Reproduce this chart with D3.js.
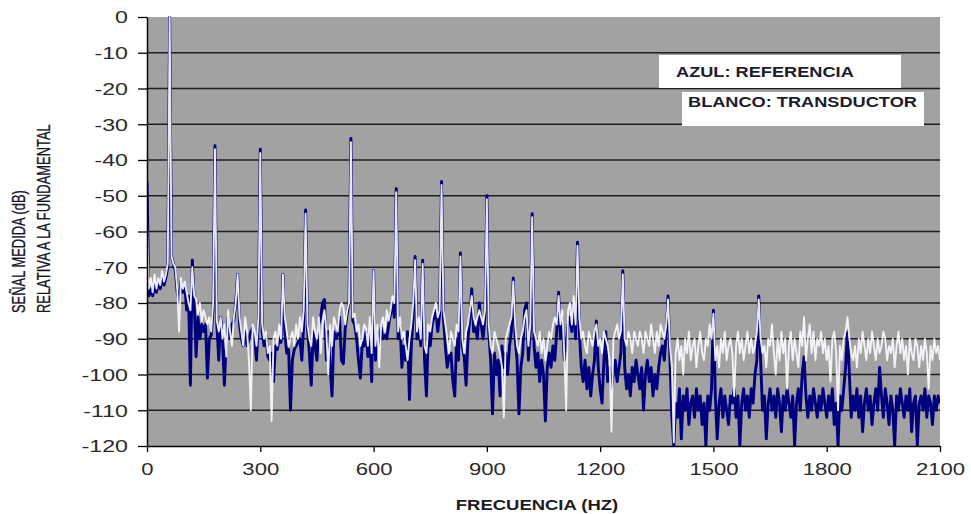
<!DOCTYPE html>
<html>
<head>
<meta charset="utf-8">
<script src="https://cdn.jsdelivr.net/npm/d3@7"></script>
<style>
  html, body { margin: 0; padding: 0; background: #ffffff; }
  svg { display: block; }
</style>
</head>
<body>
<svg id="chart" width="971" height="514"></svg>
<script>
// Axis ticks
const yTicks = [0, -10, -20, -30, -40, -50, -60, -70, -80, -90, -100, -110, -120];
const xTicks = [0, 300, 600, 900, 1200, 1500, 1800, 2100];

// Spectrum sampled every 5 Hz from 0 to 2100 Hz (dB relative to the fundamental)
const freqStepHz = 5;

// Blue trace: reference signal
const referencia = [
  -46, -78, -76, -78, -75, -77, -74, -76, -73, -75,       // 0-45
  -73, -70, 0, -67, -69, -71, -77, -80, -74, -77,         // 50-95
  -75, -82, -78, -103, -68, -80, -95, -84, -90, -86,      // 100-145
  -88, -86, -101, -90, -89, -82, -36, -86, -96, -84,      // 150-195
  -91, -103, -90, -84, -90, -86, -85, -80, -72, -86,      // 200-245
  -90, -92, -88, -92, -90, -88, -87, -90, -96, -85,       // 250-295
  -37, -88, -92, -89, -95, -96, -94, -102, -92, -93,      // 300-345
  -90, -91, -72, -88, -94, -93, -110, -96, -93, -92,      // 350-395
  -91, -90, -96, -86, -54, -87, -94, -103, -88, -92,      // 400-445
  -96, -86, -84, -80, -79, -96, -88, -98, -106, -88,      // 450-495
  -90, -89, -84, -96, -97, -87, -83, -80, -34, -85,       // 500-545
  -86, -90, -96, -101, -91, -92, -88, -95, -88, -102,     // 550-595
  -71, -96, -88, -92, -87, -90, -89, -90, -86, -83,       // 600-645
  -80, -84, -48, -90, -86, -98, -92, -96, -88, -107,      // 650-695
  -92, -84, -67, -90, -86, -92, -68, -96, -106, -88,      // 700-745
  -92, -86, -84, -82, -88, -83, -46, -84, -92, -98,       // 750-795
  -95, -94, -102, -106, -90, -96, -66, -92, -95, -103,    // 800-845
  -90, -84, -76, -88, -87, -90, -80, -86, -90, -84,       // 850-895
  -50, -88, -96, -111, -94, -100, -96, -106, -92, -98,    // 900-945
  -94, -100, -92, -88, -73, -90, -96, -111, -98, -94,     // 950-995
  -82, -80, -96, -88, -55, -92, -98, -94, -102, -96,      // 1000-1045
  -100, -113, -98, -94, -98, -92, -96, -88, -77, -90,     // 1050-1095
  -84, -96, -92, -86, -84, -88, -80, -90, -63, -88,       // 1100-1145
  -98, -102, -96, -104, -98, -106, -100, -96, -85, -98,   // 1150-1195
  -104, -108, -96, -88, -102, -98, -104, -100, -96, -102, // 1200-1245
  -98, -94, -71, -98, -104, -100, -106, -98, -102, -96,   // 1250-1295
  -100, -104, -98, -110, -100, -96, -102, -98, -106, -100,// 1300-1345
  -104, -98, -94, -92, -96, -88, -78, -96, -112, -120,    // 1350-1395
  -108, -112, -104, -118, -106, -110, -104, -114, -108, -106, // 1400-1445
  -112, -104, -110, -106, -114, -108, -120, -106, -110, -104, // 1450-1495
  -82, -106, -118, -108, -104, -112, -106, -110, -114, -106,  // 1500-1545
  -108, -104, -112, -106, -120, -108, -104, -110, -106, -112, // 1550-1595
  -104, -108, -100, -96, -78, -96, -110, -106, -118, -108,    // 1600-1645
  -104, -110, -106, -112, -104, -108, -116, -106, -110, -104, // 1650-1695
  -108, -112, -106, -120, -108, -104, -110, -100, -95, -106,  // 1700-1745
  -112, -106, -110, -104, -108, -112, -106, -110, -104, -108, // 1750-1795
  -112, -106, -110, -104, -114, -108, -120, -106, -110, -104, // 1800-1845
  -98, -88, -100, -112, -106, -110, -104, -112, -106, -116,   // 1850-1895
  -108, -104, -110, -106, -114, -108, -104, -110, -98, -106,  // 1900-1945
  -112, -104, -108, -114, -106, -110, -120, -106, -110, -104, // 1950-1995
  -108, -112, -106, -110, -104, -116, -108, -106, -120, -108, // 2000-2045
  -106, -110, -104, -112, -106, -108, -114, -106, -110, -106, // 2050-2095
  -108                                                        // 2100
];

// White trace: transducer signal
const transductor = [
  -57, -76, -73, -77, -72, -76, -73, -75, -71, -74,       // 0-45
  -72, -69, 0, -67, -69, -70, -76, -88, -73, -76,         // 50-95
  -74, -77, -80, -82, -70, -78, -79, -83, -80, -85,       // 100-145
  -82, -84, -86, -84, -88, -80, -37, -85, -88, -84,       // 150-195
  -90, -86, -95, -82, -88, -92, -84, -80, -72, -84,       // 200-245
  -88, -92, -84, -88, -96, -110, -86, -88, -92, -84,      // 250-295
  -38, -86, -90, -88, -94, -92, -113, -90, -88, -92,      // 300-345
  -86, -90, -72, -84, -88, -92, -90, -88, -92, -86,       // 350-395
  -90, -84, -88, -82, -55, -86, -90, -92, -84, -88,       // 400-445
  -90, -84, -94, -86, -82, -88, -100, -86, -92, -84,      // 450-495
  -86, -88, -82, -80, -81, -86, -82, -80, -35, -84,       // 500-545
  -83, -88, -86, -92, -90, -86, -87, -92, -84, -94,       // 550-595
  -71, -92, -86, -98, -86, -84, -88, -82, -85, -82,       // 600-645
  -78, -80, -49, -88, -84, -90, -88, -92, -96, -90,       // 650-695
  -86, -80, -68, -88, -84, -90, -69, -92, -94, -86,       // 700-745
  -88, -84, -82, -80, -84, -82, -47, -82, -86, -90,       // 750-795
  -94, -88, -90, -92, -86, -88, -67, -90, -94, -88,       // 800-845
  -86, -82, -78, -84, -86, -84, -82, -84, -86, -82,       // 850-895
  -51, -86, -92, -94, -88, -90, -92, -94, -98, -112,      // 900-945
  -90, -88, -86, -84, -74, -86, -92, -94, -90, -88,       // 950-995
  -84, -82, -92, -86, -56, -88, -90, -92, -88, -94,       // 1000-1045
  -90, -96, -92, -88, -90, -86, -84, -86, -78, -86,       // 1050-1095
  -82, -94, -110, -82, -80, -86, -78, -86, -64, -84,      // 1100-1145
  -90, -88, -92, -94, -88, -90, -92, -88, -86, -92,       // 1150-1195
  -90, -94, -88, -90, -92, -96, -116, -90, -88, -86,      // 1200-1245
  -90, -88, -72, -90, -92, -88, -90, -94, -88, -90,       // 1250-1295
  -92, -88, -90, -94, -88, -90, -92, -86, -90, -94,       // 1300-1345
  -88, -92, -86, -88, -90, -86, -79, -92, -98, -119,      // 1350-1395
  -94, -90, -96, -92, -100, -90, -94, -88, -96, -92,      // 1400-1445
  -90, -98, -92, -88, -94, -96, -90, -92, -86, -90,       // 1450-1495
  -83, -96, -92, -98, -90, -94, -88, -96, -92, -90,       // 1500-1545
  -94, -106, -92, -88, -94, -90, -96, -92, -88, -94,      // 1550-1595
  -90, -94, -92, -88, -79, -90, -94, -92, -98, -90,       // 1600-1645
  -92, -86, -94, -100, -90, -96, -88, -94, -90, -104,     // 1650-1695
  -92, -88, -96, -90, -94, -98, -88, -92, -84, -96,       // 1700-1745
  -90, -86, -94, -88, -96, -90, -92, -88, -94, -90,       // 1750-1795
  -96, -92, -102, -90, -88, -94, -110, -92, -96, -90,     // 1800-1845
  -88, -84, -90, -94, -96, -92, -98, -90, -94, -88,       // 1850-1895
  -92, -96, -90, -94, -88, -92, -96, -90, -94, -92,       // 1900-1945
  -88, -90, -96, -92, -94, -90, -98, -92, -88, -94,       // 1950-1995
  -90, -96, -92, -100, -90, -94, -96, -90, -92, -98,      // 2000-2045
  -92, -96, -90, -94, -104, -92, -96, -90, -94, -92,      // 2050-2095
  -96                                                     // 2100
];

const legendLabels = ["AZUL: REFERENCIA", "BLANCO: TRANSDUCTOR"];
const yTitleLines = ["SEÑAL MEDIDA (dB)", "RELATIVA A LA FUNDAMENTAL"];
const xTitle = "FRECUENCIA (HZ)";

const svg = d3.select("#chart");
const plot = { left: 147, right: 940, top: 17, bottom: 446 };

const x = d3.scaleLinear().domain([0, 2100]).range([plot.left, plot.right]);
const y = d3.scaleLinear().domain([-120, 0]).range([plot.bottom, plot.top]);

// Plot area background
svg.append("rect")
  .attr("x", plot.left).attr("y", plot.top)
  .attr("width", plot.right - plot.left).attr("height", plot.bottom - plot.top)
  .attr("fill", "#a2a2a2");

// Horizontal gridlines
svg.append("g")
  .selectAll("line")
  .data(yTicks.filter(v => v !== 0 && v !== -120))
  .join("line")
  .attr("x1", plot.left).attr("x2", plot.right)
  .attr("y1", d => y(d)).attr("y2", d => y(d))
  .attr("stroke", "#1e1e1e").attr("stroke-width", 1.4);

// Clip the traces to the plot area
svg.append("defs").append("clipPath").attr("id", "plotClip")
  .append("rect")
  .attr("x", plot.left).attr("y", plot.top - 1)
  .attr("width", plot.right - plot.left).attr("height", plot.bottom - plot.top + 1);

const line = d3.line()
  .x((d, i) => x(i * freqStepHz))
  .y(d => y(d));

const traces = svg.append("g").attr("clip-path", "url(#plotClip)");

traces.append("path")
  .datum(referencia)
  .attr("d", line)
  .attr("fill", "none")
  .attr("stroke", "#00007f")
  .attr("stroke-width", 2.9)
  .attr("stroke-linejoin", "round");

traces.append("path")
  .datum(transductor)
  .attr("d", line)
  .attr("fill", "none")
  .attr("stroke", "#f7f7fd")
  .attr("stroke-width", 1.9)
  .attr("stroke-opacity", 0.93)
  .attr("stroke-linejoin", "round");

// Y axis
const yAxis = svg.append("g")
  .attr("transform", `translate(${plot.left},0)`)
  .call(d3.axisLeft(y).tickValues(yTicks).tickFormat(d3.format("d")).tickSize(9).tickSizeOuter(0));
yAxis.select(".domain").attr("stroke", "#000").attr("stroke-width", 1.5);
yAxis.selectAll(".tick line").attr("stroke", "#000").attr("stroke-width", 1.3);
yAxis.selectAll(".tick text")
  .attr("x", null)
  .attr("dy", "0.36em")
  .attr("transform", "translate(-19,0) scale(1.45,1)")
  .attr("font-family", "'Liberation Sans', Arial, sans-serif")
  .attr("font-size", 16)
  .attr("fill", "#2a2a2a")
  .text(d => String(d));

// X axis
const xAxis = svg.append("g")
  .attr("transform", `translate(0,${plot.bottom})`)
  .call(d3.axisBottom(x).tickValues(xTicks).tickFormat(d3.format("d")).tickSize(6).tickSizeOuter(0));
xAxis.select(".domain").attr("stroke", "#000").attr("stroke-width", 1.5);
xAxis.selectAll(".tick line").attr("stroke", "#000").attr("stroke-width", 1.3);
xAxis.selectAll(".tick text")
  .attr("y", null)
  .attr("dy", null)
  .attr("transform", "translate(0,29) scale(1.38,1)")
  .attr("font-family", "'Liberation Sans', Arial, sans-serif")
  .attr("font-size", 16)
  .attr("fill", "#2a2a2a");

// X axis title
svg.append("text")
  .attr("transform", "translate(537,510) scale(1.32,1)")
  .attr("text-anchor", "middle")
  .attr("font-family", "'Liberation Sans', Arial, sans-serif")
  .attr("font-weight", "bold")
  .attr("font-size", 14)
  .attr("fill", "#1c1c1c")
  .text(xTitle);

// Y axis title (two rotated lines, narrow lettering)
svg.append("g")
  .selectAll("text")
  .data(yTitleLines)
  .join("text")
  .attr("transform", (d, i) => `translate(${25 + i * 24.5},313) rotate(-90) scale(0.68,1)`)
  .attr("text-anchor", "start")
  .attr("font-family", "'Liberation Sans', Arial, sans-serif")
  .attr("font-size", 19)
  .attr("fill", "#15152a")
  .attr("stroke", "#15152a")
  .attr("stroke-width", 0.3)
  .text(d => d);

// Legend notes
const legend = svg.append("g");
const legendBoxes = [
  { x: 659, y: 55, w: 242, h: 33, tx: 676, ty: 77 },
  { x: 682, y: 92, w: 242, h: 34, tx: 688, ty: 107 }
];
legend.selectAll("rect")
  .data(legendBoxes)
  .join("rect")
  .attr("x", d => d.x).attr("y", d => d.y)
  .attr("width", d => d.w).attr("height", d => d.h)
  .attr("fill", "#ffffff");
legend.selectAll("text")
  .data(legendLabels)
  .join("text")
  .attr("transform", (d, i) => `translate(${legendBoxes[i].tx},${legendBoxes[i].ty}) scale(1.3,1)`)
  .attr("font-family", "'Liberation Sans', Arial, sans-serif")
  .attr("font-weight", "bold")
  .attr("font-size", 14)
  .attr("fill", "#1c1c2c")
  .text(d => d);
</script>
</body>
</html>
